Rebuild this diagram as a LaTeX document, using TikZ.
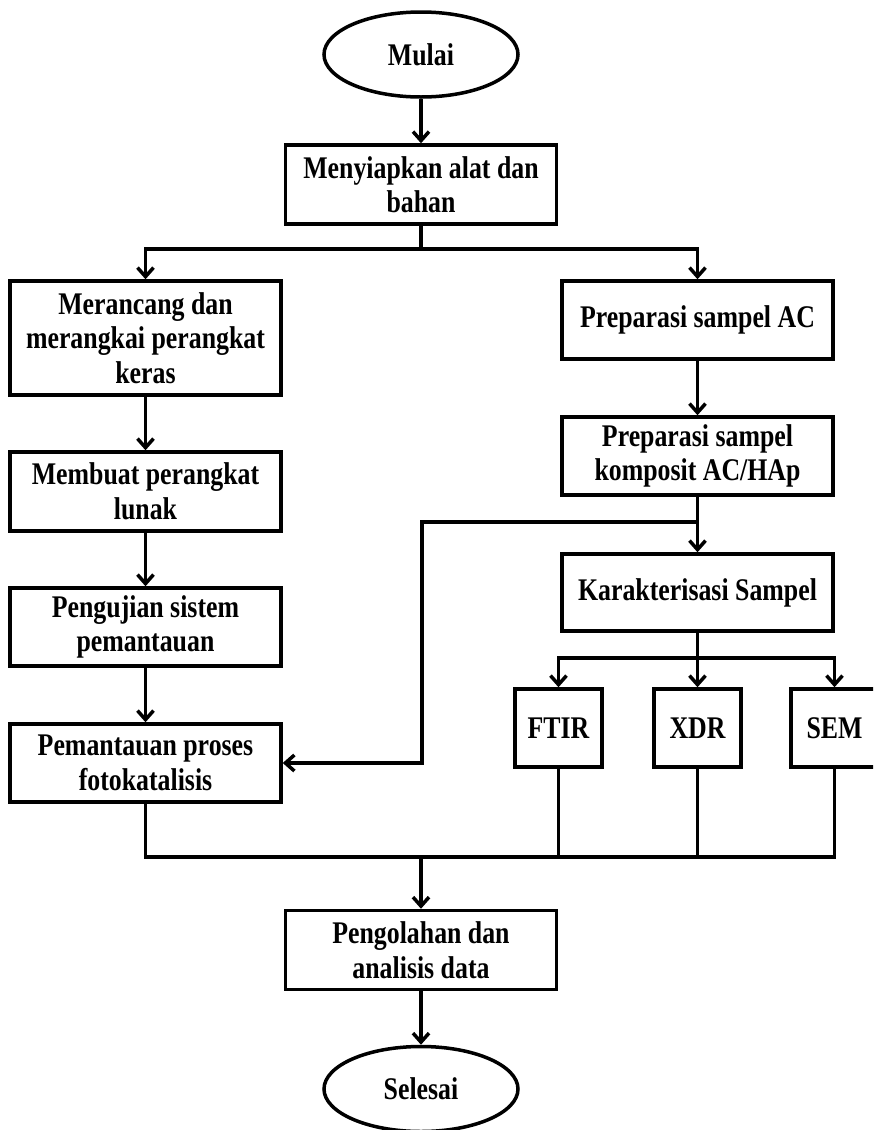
\documentclass[tikz,border=0pt]{standalone}
\usepackage{fontspec}
\setmainfont[FakeStretch=0.82]{Liberation Serif}
\usetikzlibrary{arrows.meta,shapes.geometric}
\tikzset{
  box/.style={draw, line width=3.5pt, align=center, inner sep=0pt, font=\fontsize{31.5}{34.5}\selectfont\bfseries},
  wide/.style={box, minimum width=271pt, minimum height=79pt},
  small/.style={box, minimum width=87pt, minimum height=78pt},
  term/.style={draw, ellipse, line width=3.5pt, inner sep=0pt, minimum width=194pt, minimum height=85pt, font=\fontsize{31.5}{34.5}\selectfont\bfseries},
  ln/.style={line width=3.5pt},
  arr/.style={ln, -{Straight Barb[length=9pt,width=16pt]}}
}
\begin{document}
\begin{tikzpicture}[x=1pt,y=-1pt]
\useasboundingbox (0,0) rectangle (873,1130);
\clip (0,0) rectangle (873,1130);
\fill[white] (0,0) rectangle (873,1130);
\node[term] (mulai) at (421,54.5) {Mulai};
\node[wide] (siap) at (421,184.5) {Menyiapkan alat dan\\bahan};
\node[wide, minimum height=114pt] (rancang) at (145.5,338) {Merancang dan\\merangkai perangkat\\keras};
\node[wide, minimum height=78pt] (prepac) at (697.5,320) {Preparasi sampel AC};
\node[wide] (lunak) at (145.5,491.5) {Membuat perangkat\\lunak};
\node[wide, minimum height=78pt] (komp) at (697.5,456) {Preparasi sampel\\komposit AC/HAp};
\node[wide, minimum height=77pt] (karak) at (697.5,592.5) {Karakterisasi Sampel};
\node[wide, minimum height=78pt] (uji) at (145.5,627) {Pengujian sistem\\pemantauan};
\node[small] (ftir) at (558.5,728) {FTIR};
\node[small] (xdr) at (697.5,728) {XDR};
\node[small] (sem) at (834.5,728) {SEM};
\node[wide, minimum height=78pt] (pantau) at (145.5,763) {Pemantauan proses\\fotokatalisis};
\node[wide] (olah) at (421,950) {Pengolahan dan\\analisis data};
\node[term] (selesai) at (421,1089) {Selesai};
\coordinate (j1) at (421,249);
\coordinate (j2) at (697.5,522);
\coordinate (c1) at (422,640);
\coordinate (j3) at (697.5,658);
\coordinate (bl) at (145.5,857);
\coordinate (br) at (834.5,857);
\coordinate (j4) at (421,857);
\draw[arr] (mulai) -- (siap);
\draw[ln] (siap) -- (j1);
\draw[arr] (j1) -| (rancang.north);
\draw[arr] (j1) -| (prepac.north);
\draw[arr] (rancang) -- (lunak);
\draw[arr] (lunak) -- (uji);
\draw[arr] (uji) -- (pantau);
\draw[arr] (prepac) -- (komp);
\draw[arr] (komp) -- (karak);
\draw[arr] (j2) -| (c1) |- (pantau.east);
\draw[ln] (karak) -- (j3);
\draw[arr] (j3) -| (ftir.north);
\draw[arr] (j3) -- (xdr.north);
\draw[arr] (j3) -| (sem.north);
\draw[ln] (pantau.south) -- (bl) -- (br) -- (sem.south);
\draw[ln] (ftir.south) -- (ftir.south |- bl);
\draw[ln] (xdr.south) -- (xdr.south |- bl);
\draw[arr] (j4) -- (olah);
\draw[arr] (olah) -- (selesai);
\end{tikzpicture}
\end{document}
